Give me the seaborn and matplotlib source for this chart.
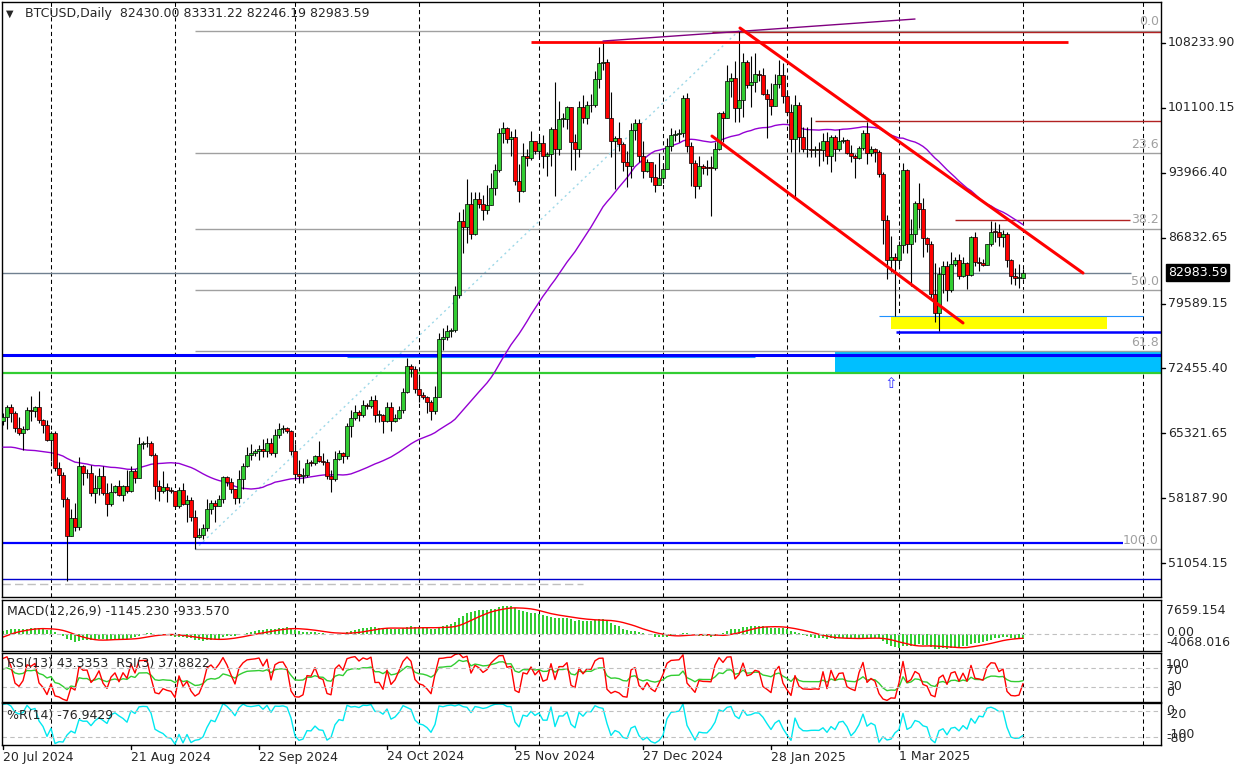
import numpy as np
import pandas as pd
import matplotlib
matplotlib.use("Agg")
import matplotlib.pyplot as plt
import matplotlib.transforms as mtrans
from matplotlib.patches import Rectangle
import seaborn as sns

sns.set_style("white")
plt.rcParams["font.family"] = ["DejaVu Sans"]

W, H = 1241, 771
first_day = pd.Timestamp("2024-07-20")

# daily BTCUSD candles, 20 Jul 2024 .. 1 Apr 2025, thousands of USD
opens_k = [
    66.70, 67.15, 68.20, 67.60, 65.90, 65.40, 65.80, 67.90, 67.80, 68.25, 66.80, 66.20,
    64.60, 65.35, 61.50, 60.70, 58.10, 54.00, 56.00, 55.00, 61.70, 60.90, 60.95, 58.70, 59.35, 60.60, 58.75, 57.55,
    58.90, 59.50, 58.50, 59.50, 59.00, 61.20, 60.40, 64.10, 64.20, 64.25, 62.90, 59.50, 59.00, 59.40, 59.10,
    58.95, 57.35, 59.10, 57.50, 57.95, 56.15, 53.95, 54.15, 54.85, 57.00, 57.65, 57.35, 58.13, 60.55, 60.00,
    59.20, 58.20, 60.30, 61.75, 62.95, 63.20, 63.35, 63.58, 63.34, 64.28, 63.14, 65.18, 65.79, 65.88, 65.60,
    63.33, 60.81, 60.63, 60.75, 62.09, 62.05, 62.82, 62.22, 62.13, 60.58, 60.27, 62.44, 63.19, 62.85, 66.08,
    67.04, 67.61, 67.37, 68.42, 68.36, 69.00, 67.37, 67.38, 66.68, 68.16, 66.64, 67.02, 67.92, 69.91, 72.72, 72.34,
    70.22, 69.48, 69.28, 68.74, 67.81, 69.36, 75.64, 75.90, 76.55, 76.70, 80.47, 88.70, 87.95, 90.58, 87.25,
    91.07, 90.58, 89.85, 90.46, 92.31, 94.29, 98.37, 98.92, 97.67, 97.90, 93.01, 91.96, 95.86, 95.64, 97.46,
    96.41, 97.19, 95.84, 96.00, 98.77, 96.59, 99.92, 99.92, 101.17, 97.32, 96.57, 101.17, 100.04, 101.46, 101.37,
    104.30, 106.03, 106.14, 100.04, 97.49, 97.76, 97.08, 95.10, 94.69, 98.68, 99.40, 95.79, 94.16, 95.16, 93.53, 92.64,
    93.43, 94.42, 96.89, 98.11, 98.24, 98.35, 102.24, 96.95, 95.06, 92.55, 94.73, 94.54, 94.52, 94.49, 96.54,
    100.50, 99.99, 104.08, 104.41, 101.09, 102.02, 106.15, 103.65, 103.96, 104.82, 104.71, 102.68, 102.09, 101.33, 103.73, 104.73,
    102.40, 100.65, 97.69, 101.40, 97.87, 96.62, 96.55, 96.50, 96.53, 96.48, 97.43, 95.78, 97.87, 96.62,
    97.51, 97.57, 96.12, 95.77, 95.54, 96.64, 98.33, 96.13, 96.58, 96.27, 93.80, 88.74, 84.35, 84.70,
    84.37, 86.03, 94.25, 86.12, 87.22, 90.62, 89.96, 86.74, 86.15, 80.60, 78.53, 82.86, 83.72, 81.07, 83.97,
    84.34, 82.58, 84.08, 82.72, 86.85, 84.17, 84.04, 83.83, 86.08, 87.50, 87.47, 86.90, 87.18, 84.35, 82.60, 82.39,
    82.43,
]
highs_k = [
    67.60, 68.40, 68.50, 67.80, 67.10, 66.10, 68.20, 69.40, 68.30, 70.00, 66.90, 66.80,
    65.60, 65.60, 62.20, 61.10, 58.30, 57.00, 57.70, 62.70, 61.80, 61.40, 61.80, 60.70, 61.50, 61.70, 59.80, 59.80,
    59.60, 60.20, 59.60, 61.30, 61.70, 61.40, 64.90, 64.50, 65.00, 64.50, 63.20, 60.20, 61.20, 59.90, 59.40,
    59.00, 59.40, 59.80, 58.50, 58.30, 56.90, 54.85, 55.30, 58.10, 58.00, 57.95, 58.55, 60.65, 60.60,
    60.40, 59.20, 61.30, 62.00, 63.80, 64.10, 63.55, 64.00, 64.70, 64.80, 64.80, 65.80, 66.50, 66.25, 66.00, 65.70,
    64.10, 62.40, 61.50, 62.50, 62.40, 62.95, 64.45, 63.20, 62.50, 61.30, 63.40, 63.45, 63.25, 66.50,
    67.90, 68.40, 67.90, 68.95, 68.65, 69.40, 69.50, 67.85, 67.45, 68.80, 68.75, 67.40, 68.30, 70.25, 73.60, 72.90, 72.70,
    71.60, 69.90, 69.40, 69.00, 70.50, 76.40, 76.90, 77.20, 76.90, 81.50, 89.60, 89.95, 93.30, 91.80, 91.90,
    91.80, 91.50, 92.60, 93.90, 94.90, 98.90, 99.60, 98.95, 98.60, 98.80, 94.90, 97.20, 96.60, 98.60, 97.50,
    97.90, 98.10, 96.30, 99.00, 104.00, 101.90, 100.50, 101.30, 101.20, 98.20, 101.90, 102.50, 101.90, 102.60, 105.20,
    107.80, 108.30, 106.50, 102.80, 98.00, 99.50, 97.40, 96.40, 99.40, 99.90, 99.90, 97.50, 95.50, 95.20, 94.90, 96.10,
    94.90, 97.80, 98.90, 98.70, 98.80, 102.50, 102.70, 97.30, 95.40, 95.80, 94.98, 95.40, 95.80, 97.30, 100.70,
    100.80, 105.80, 104.90, 106.30, 109.60, 107.10, 106.40, 106.80, 107.10, 105.30, 105.50, 103.20, 103.80, 104.80, 106.40, 106.00,
    102.80, 101.50, 102.50, 101.70, 99.00, 99.00, 100.10, 96.90, 97.30, 98.30, 98.50, 98.10, 98.10, 98.80,
    97.90, 97.70, 97.00, 96.00, 96.90, 98.70, 99.50, 96.90, 96.70, 96.50, 94.00, 89.30, 87.00, 85.10,
    86.50, 95.00, 94.40, 88.90, 90.90, 92.80, 91.20, 86.90, 86.50, 84.00, 83.60, 84.30, 84.30, 85.30, 84.70,
    85.00, 84.70, 84.10, 87.00, 87.40, 84.70, 84.50, 86.10, 88.70, 88.50, 88.30, 87.70, 87.50, 84.50, 83.50, 83.90,
    83.33122,
]
lows_k = [
    66.20, 65.80, 66.60, 65.50, 65.10, 63.50, 65.70, 66.70, 67.10, 66.50, 65.30, 64.50,
    62.30, 61.20, 59.90, 57.20, 49.05, 54.00, 54.60, 54.70, 59.60, 60.40, 58.40, 57.70, 58.50, 58.50, 56.20, 57.30,
    58.80, 58.40, 57.90, 58.80, 58.90, 59.80, 60.40, 63.60, 63.80, 62.80, 58.10, 57.90, 58.80, 57.80, 58.70,
    57.20, 57.10, 57.40, 55.60, 55.70, 52.55, 53.75, 53.65, 54.60, 56.40, 55.55, 57.30, 57.65, 59.50,
    58.70, 57.50, 57.60, 59.20, 61.60, 62.40, 62.80, 62.40, 62.70, 62.70, 62.90, 62.70, 64.80, 65.40, 65.30, 62.90,
    60.20, 59.90, 59.80, 60.50, 61.70, 61.85, 62.20, 61.85, 60.30, 58.90, 60.10, 62.40, 62.05, 62.45,
    64.90, 66.75, 66.70, 67.10, 68.00, 68.10, 66.60, 66.60, 65.30, 66.55, 65.60, 66.60, 66.85, 67.60, 69.70, 71.50, 69.70,
    68.80, 69.05, 67.50, 66.80, 67.45, 69.30, 74.50, 75.60, 75.90, 76.50, 80.20, 85.10, 86.20, 86.70, 87.10,
    90.10, 88.80, 89.40, 90.40, 91.50, 94.10, 97.20, 97.20, 95.80, 92.60, 90.80, 91.80, 94.70, 95.40, 96.00,
    95.70, 94.50, 93.60, 94.70, 91.40, 95.90, 99.00, 98.80, 94.30, 94.30, 95.70, 99.40, 99.30, 100.60, 101.20,
    103.30, 105.30, 100.00, 95.70, 92.20, 96.40, 94.20, 92.40, 93.40, 97.60, 95.10, 93.40, 94.10, 93.00, 91.90, 92.60,
    92.80, 94.40, 96.40, 97.50, 97.30, 97.90, 96.20, 92.50, 91.20, 92.20, 93.80, 93.70, 89.25, 94.30, 96.50,
    97.30, 99.95, 102.30, 99.60, 99.50, 100.10, 103.30, 101.25, 102.80, 104.10, 102.50, 97.80, 100.30, 101.30, 103.30, 101.60,
    100.30, 96.20, 91.20, 96.20, 96.20, 95.70, 95.70, 95.70, 94.70, 95.30, 94.90, 94.10, 95.30, 96.40,
    97.20, 96.00, 95.20, 93.40, 95.50, 96.50, 94.90, 95.80, 95.20, 93.50, 86.10, 82.30, 83.00, 78.20,
    83.80, 85.10, 85.10, 81.50, 86.40, 87.90, 84.70, 85.30, 80.10, 77.60, 76.60, 80.70, 79.90, 80.80, 83.70,
    82.30, 82.50, 81.20, 82.60, 83.70, 83.20, 83.70, 83.80, 85.90, 86.40, 85.90, 85.80, 83.60, 81.70, 81.60, 81.30,
    82.24619,
]
closes_k = [
    67.15, 68.20, 67.60, 65.90, 65.40, 65.80, 67.90, 67.80, 68.25, 66.80, 66.20, 64.60,
    65.35, 61.50, 60.70, 58.10, 54.00, 56.00, 55.00, 61.70, 60.90, 60.95, 58.70, 59.35, 60.60, 58.75, 57.55, 58.90,
    59.50, 58.50, 59.50, 59.00, 61.20, 60.40, 64.10, 64.20, 64.25, 62.90, 59.50, 59.00, 59.40, 59.10, 58.95,
    57.35, 59.10, 57.50, 57.95, 56.15, 53.95, 54.15, 54.85, 57.00, 57.65, 57.35, 58.13, 60.55, 60.00, 59.20,
    58.20, 60.30, 61.75, 62.95, 63.20, 63.35, 63.58, 63.34, 64.28, 63.14, 65.18, 65.79, 65.88, 65.60, 63.33,
    60.81, 60.63, 60.75, 62.09, 62.05, 62.82, 62.22, 62.13, 60.58, 60.27, 62.44, 63.19, 62.85, 66.08, 67.04,
    67.61, 67.37, 68.42, 68.36, 69.00, 67.37, 67.38, 66.68, 68.16, 66.64, 67.02, 67.92, 69.91, 72.72, 72.34, 70.22,
    69.48, 69.28, 68.74, 67.81, 69.36, 75.64, 75.90, 76.55, 76.70, 80.47, 88.70, 87.95, 90.58, 87.25, 91.07,
    90.58, 89.85, 90.46, 92.31, 94.29, 98.37, 98.92, 97.67, 97.90, 93.01, 91.96, 95.86, 95.64, 97.46, 96.41,
    97.19, 95.84, 96.00, 98.77, 96.59, 99.92, 99.92, 101.17, 97.32, 96.57, 101.17, 100.04, 101.46, 101.37, 104.30,
    106.03, 106.14, 100.04, 97.49, 97.76, 97.08, 95.10, 94.69, 98.68, 99.40, 95.79, 94.16, 95.16, 93.53, 92.64, 93.43,
    94.42, 96.89, 98.11, 98.24, 98.35, 102.24, 96.95, 95.06, 92.55, 94.73, 94.54, 94.52, 94.49, 96.54, 100.50,
    99.99, 104.08, 104.41, 101.09, 102.02, 106.15, 103.65, 103.96, 104.82, 104.71, 102.68, 102.09, 101.33, 103.73, 104.73, 102.40,
    100.65, 97.69, 101.40, 97.87, 96.62, 96.55, 96.50, 96.53, 96.48, 97.43, 95.78, 97.87, 96.62, 97.51,
    97.57, 96.12, 95.77, 95.54, 96.64, 98.33, 96.13, 96.58, 96.27, 93.80, 88.74, 84.35, 84.70, 84.37,
    86.03, 94.25, 86.12, 87.22, 90.62, 89.96, 86.74, 86.15, 80.60, 78.53, 82.86, 83.72, 81.07, 83.97, 84.34,
    82.58, 84.08, 82.72, 86.85, 84.17, 84.04, 83.83, 86.08, 87.50, 87.47, 86.90, 87.18, 84.35, 82.60, 82.39, 82.43,
    82.98359,
]
# closes of 1 Jun .. 19 Jul 2024, only used to warm up the indicators
warmup_closes_k = [
    67.75, 67.76, 68.80, 70.57, 71.08, 70.76, 69.34, 69.31, 69.65, 69.50, 67.32, 68.24, 66.76, 66.01, 66.19,
    66.64, 66.49, 65.15, 64.96, 64.83, 64.10, 64.25, 63.18, 60.28, 61.80, 60.86, 61.67, 60.32, 60.89, 62.68,
    62.85, 62.03, 60.20, 56.99, 56.66, 58.23, 55.86, 56.71, 57.89, 57.72, 57.34, 57.90, 59.23, 60.79, 64.87,
    65.10, 64.12, 63.97, 66.71,
]
# highs / lows of 6 .. 19 Jul 2024 for the %R warm-up
warmup_highs_k = [58.40, 58.30, 58.20, 58.30, 59.40, 59.50, 58.50, 59.80, 61.40, 64.90, 65.40, 66.10, 65.00, 67.40]
warmup_lows_k = [56.00, 55.80, 54.30, 56.30, 57.20, 57.10, 56.60, 57.80, 59.30, 60.60, 62.50, 63.90, 63.20, 63.30]

price_ticks = [108233.90, 101100.15, 93966.40, 86832.65, 79589.15, 72455.40, 65321.65, 58187.90, 51054.15]
date_labels = ["20 Jul 2024", "21 Aug 2024", "22 Sep 2024", "24 Oct 2024", "25 Nov 2024",
               "27 Dec 2024", "28 Jan 2025", "1 Mar 2025"]
macd_readout = (-1145.230, -933.570)
macd_axis_labels = ["7659.154", "0.00", "-4068.016"]
rsi_readout = (43.3353, 37.8822)
wpr_readout = -76.9429

# chart objects: (day index, price)
fib_low = (48, 52550)
fib_high = (184, 109600)
fib_levels = [0.0, 23.6, 38.2, 50.0, 61.8, 100.0]
channel_upper = [(184.25, 109880), (270, 82940)]
channel_lower = [(177.25, 98000), (240, 77450)]
red_level = (108340, 132, 266.25)
purple_line = [(150, 108450), (228, 110870)]
brown_levels = [(109440, 177.25, None), (99660, 203, None), (88770, 238, 281.75)]
blue_thick = [(73900, None, None), (53290, None, 280)]
blue_thin = (49300, None, None)
blue_mid = (76455, 223.25, None)
green_level = 71950
gray_dash = (48750, None, 145)
skyblue_thin = [(73706, 86, 188), (78215, 219, 285)]
cyan_zone = (208, 71950, 74256)
yellow_zone = (222, 276, 76786, 78105)
arrow_mark = (222, 70740)

o = np.array(opens_k) * 1000
h = np.array(highs_k) * 1000
l = np.array(lows_k) * 1000
c = np.array(closes_k) * 1000
days = np.arange(len(c))
nw = len(warmup_closes_k)

# indicators
close_all = pd.Series(warmup_closes_k + closes_k) * 1000
ma50 = close_all.rolling(50).mean().to_numpy()[nw:]
macd = close_all.ewm(span=12, adjust=False).mean() - close_all.ewm(span=26, adjust=False).mean()
signal = macd.rolling(9).mean()
macd, signal = macd.to_numpy()[nw:], signal.to_numpy()[nw:]
delta = close_all.diff()


def rsi(n):
    gain = delta.clip(lower=0).ewm(alpha=1 / n, adjust=False).mean()
    loss = (-delta.clip(upper=0)).ewm(alpha=1 / n, adjust=False).mean()
    return (100 - 100 / (1 + gain / loss)).to_numpy()[nw:]


rsi13, rsi3 = rsi(13), rsi(3)
hi_all = pd.Series(warmup_highs_k + highs_k) * 1000
lo_all = pd.Series(warmup_lows_k + lows_k) * 1000
cl_all = pd.Series(warmup_closes_k[-14:] + closes_k) * 1000
hh, ll = hi_all.rolling(14).max(), lo_all.rolling(14).min()
wpr = (-100 * (hh - cl_all) / (hh - ll)).to_numpy()[14:]

BULL, BEAR = "#32CD32", "#FF0000"
GRAY = "#A0A0A0"
LEFT, RIGHT = 2, 1161
X0, X1 = -0.25, 289.5
P_TOP, P_BOT = 112742, 47316

fig = plt.figure(figsize=(W / 100, H / 100), dpi=100)


def panel(top, bottom):
    a = fig.add_axes([LEFT / W, 1 - bottom / H, (RIGHT - LEFT) / W, (bottom - top) / H])
    a.set_xlim(X0, X1)
    for s in a.spines.values():
        s.set_color("black")
        s.set_linewidth(1)
    return a


def ftext(x, y, s, **kw):
    kw.setdefault("fontsize", 9)
    kw.setdefault("va", "center")
    fig.text(x / W, 1 - y / H, s, **kw)


ax = panel(2, 597)
ax_macd = panel(600, 651)
ax_rsi = panel(653, 702)
ax_wpr = panel(703, 745)
ax.set_ylim(P_BOT, P_TOP)

grid_days = [(d - first_day).days for d in pd.date_range("2024-08-01", "2025-05-01", freq="MS")]
for a in (ax, ax_macd, ax_rsi, ax_wpr):
    for gd in grid_days:
        a.axvline(gd, color="black", lw=0.75, ls=(0, (4, 3)), zorder=0.5)

# zones
ax.add_patch(Rectangle((cyan_zone[0], cyan_zone[1]), X1 - cyan_zone[0], cyan_zone[2] - cyan_zone[1],
                       facecolor="#00BFFF", edgecolor="none", zorder=1))
ax.add_patch(Rectangle((yellow_zone[0], yellow_zone[2]), yellow_zone[1] - yellow_zone[0],
                       yellow_zone[3] - yellow_zone[2], facecolor="#FFFF00", edgecolor="none", zorder=1))

# fibonacci
fib_span = fib_high[1] - fib_low[1]
for lvl in fib_levels:
    p = fib_high[1] - lvl / 100 * fib_span
    ax.hlines(p, fib_low[0], X1, color=GRAY, lw=1, zorder=1.5)
    ax.text(0.998, p + 250, f"{lvl:.1f}", transform=ax.get_yaxis_transform(), ha="right", va="bottom",
            color=GRAY, fontsize=9)
ax.plot([fib_low[0], fib_high[0]], [fib_low[1], fib_high[1]], color="#9ED8E8", lw=1,
        ls=(0, (1.5, 2.5)), zorder=1.5)


def hline(level, d0, d1, **kw):
    ax.hlines(level, X0 if d0 is None else d0, X1 if d1 is None else d1, **kw)


hline(gray_dash[0], gray_dash[1], gray_dash[2], color="#C0C0C0", lw=1, ls=(0, (6, 3)), zorder=2)
hline(green_level, None, None, color="#32CD32", lw=1.6, zorder=2)
for lev, d0, d1 in skyblue_thin:
    hline(lev, d0, d1, color="#1E90FF", lw=0.8, zorder=2)
hline(blue_thin[0], blue_thin[1], blue_thin[2], color="#0000CD", lw=1.0, zorder=2)
hline(blue_thick[0][0], None, None, color="#0000FF", lw=2.2, zorder=2)
hline(blue_thick[1][0], None, blue_thick[1][2], color="#0000FF", lw=1.6, zorder=2)
hline(blue_mid[0], blue_mid[1], None, color="#0000FF", lw=1.8, zorder=2)
for lev, d0, d1 in brown_levels:
    hline(lev, d0, d1, color="#B22222", lw=1.0, zorder=2)
hline(c[-1], None, 282, color="#708090", lw=1.0, zorder=2)
hline(red_level[0], red_level[1], red_level[2], color="#FF0000", lw=2.0, zorder=6)
ax.plot(*zip(*purple_line), color="#800080", lw=1.0, zorder=6)
ax.text(arrow_mark[0], arrow_mark[1], "\u21e7", color="#3030FF", fontsize=11, ha="center", va="center")

# candles
sns.lineplot(x=days, y=ma50, ax=ax, color="#9400D3", linewidth=1.0, zorder=3)
ax.vlines(days, l, h, color="black", lw=0.8, zorder=4)
body = np.maximum(np.abs(c - o), 60)
ax.bar(days, body, bottom=np.minimum(o, c), width=0.8, color=np.where(c >= o, BULL, BEAR),
       edgecolor="black", linewidth=0.5, zorder=5)

# channel
ax.plot(*zip(*channel_upper), color="#FF0000", lw=2.2, zorder=6)
ax.plot(*zip(*channel_lower), color="#FF0000", lw=2.2, zorder=6)

# right price scale
ptrans = mtrans.blended_transform_factory(fig.transFigure, ax.transData)
for v in price_ticks:
    ax.plot([RIGHT / W, (RIGHT + 4) / W], [v, v], transform=ptrans, color="black", lw=1, clip_on=False)
    ax.text(1168 / W, v, f"{v:.2f}", transform=ptrans, fontsize=9, va="center")
ax.text(1168 / W, c[-1], f"{c[-1]:.2f}", transform=ptrans, fontsize=9, va="center", color="white",
        bbox=dict(boxstyle="square,pad=0.15", facecolor="black", edgecolor="black"))

ftext(6, 14, "\u25bc", fontsize=7)
ftext(25, 14, f"BTCUSD,Daily  {o[-1]:.2f} {h[-1]:.2f} {l[-1]:.2f} {c[-1]:.2f}")

# MACD
ax_macd.bar(days, macd, width=0.3, color=BULL, linewidth=0)
sns.lineplot(x=days, y=signal, ax=ax_macd, color="#FF0000", linewidth=1.0)
ax_macd.axhline(0, color="#C0C0C0", lw=0.8, ls=(0, (4, 3)))
rng = np.nanmax(macd) - np.nanmin(macd)
ax_macd.set_ylim(np.nanmin(macd) - 0.05 * rng, np.nanmax(macd) + 0.14 * rng)
ftext(7, 611, f"MACD(12,26,9) {macd_readout[0]:.3f} {macd_readout[1]:.3f}")
ftext(1166, 610, macd_axis_labels[0])
ftext(1166, 633, macd_axis_labels[1])
ftext(1166, 642, macd_axis_labels[2])

# RSI
sns.lineplot(x=days, y=rsi13, ax=ax_rsi, color="#32CD32", linewidth=1.0)
sns.lineplot(x=days, y=rsi3, ax=ax_rsi, color="#FF0000", linewidth=1.0)
for lv in (70, 30):
    ax_rsi.axhline(lv, color="#C0C0C0", lw=0.8, ls=(0, (4, 3)))
ax_rsi.set_ylim(0, 100)
ftext(7, 664, f"RSI(13) {rsi_readout[0]:.4f}  RSI(3) {rsi_readout[1]:.4f}")
# MT4 stacks the level labels on top of the min / max labels
for s, y in (("100", 664), ("70", 670), ("30", 687), ("0", 692)):
    ftext(1166, y, s)

# Williams %R
sns.lineplot(x=days, y=wpr, ax=ax_wpr, color="#00E8F0", linewidth=1.0)
for lv in (-20, -80):
    ax_wpr.axhline(lv, color="#C0C0C0", lw=0.8, ls=(0, (4, 3)))
ax_wpr.set_ylim(-100, 0)
ftext(7, 715, f"%R(14) {wpr_readout:.4f}")
for s, y in (("0", 711), ("-20", 714), ("-100", 735), ("-80", 738)):
    ftext(1166, y, s)

for a in (ax, ax_macd, ax_rsi, ax_wpr):
    a.set_xlim(X0, X1)
    a.set_xlabel("")
    a.set_ylabel("")
    a.set_xticks([])
    a.set_yticks([])

# date scale
for lab in date_labels:
    d = (pd.Timestamp(lab) - first_day).days
    x = 3 + 4 * d
    fig.add_artist(plt.Line2D([x / W, x / W], [1 - 745 / H, 1 - 749 / H], color="black", lw=1))
    ftext(x, 757, lab)

fig.savefig("out.png", dpi=100)
